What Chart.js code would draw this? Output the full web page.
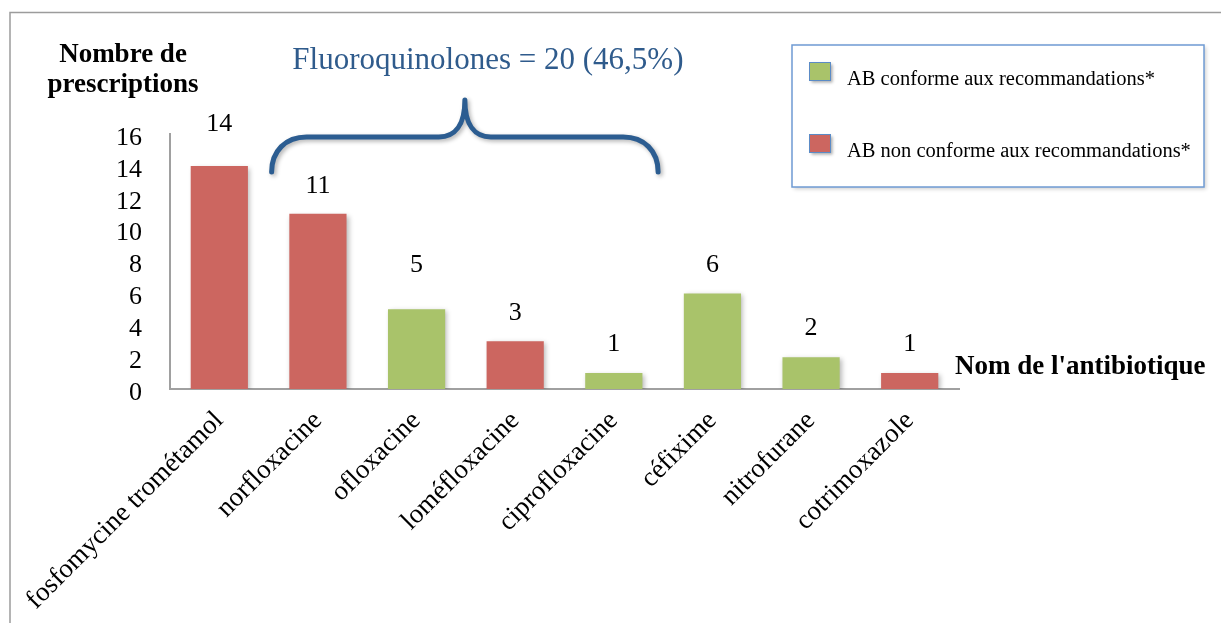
<!DOCTYPE html>
<html>
<head>
  <meta charset="utf-8">
  <title>Prescriptions par antibiotique</title>
  <script src="https://cdn.jsdelivr.net/npm/chart.js@4.4.2/dist/chart.umd.min.js"></script>
  <style>
    html, body { margin: 0; padding: 0; background: #fff; overflow: hidden; }
    canvas { display: block; }
  </style>
</head>
<body>
<canvas id="abChart" width="1221" height="623"></canvas>
<script>
const antibiotics = ['fosfomycine trométamol', 'norfloxacine', 'ofloxacine', 'loméfloxacine',
  'ciprofloxacine', 'céfixime', 'nitrofurane', 'cotrimoxazole'];
const prescriptions = [14, 11, 5, 3, 1, 6, 2, 1];
const conforme = [false, false, true, false, true, true, true, false];
const fluoroIdx = [1, 2, 3, 4];
const yTicks = [0, 2, 4, 6, 8, 10, 12, 14, 16];
const legendLabels = ['AB conforme aux recommandations*', 'AB non conforme aux recommandations*'];

// label lift above each bar (px), as placed in the original
const labelLift = [42, 28, 44, 28, 29, 28, 29, 29];

const GREEN = '#a9c36a';
const RED = '#cc6660';
const BLUE = '#2c5d91';
const SERIF = "'Liberation Serif', 'DejaVu Serif', serif";

Chart.defaults.font.family = SERIF;
Chart.defaults.color = '#000';

const total = prescriptions.reduce((a, b) => a + b, 0);
const fluoroSum = fluoroIdx.reduce((s, i) => s + prescriptions[i], 0);
const fluoroText = 'Fluoroquinolones = ' + fluoroSum + ' (' + (fluoroSum / total * 100).toFixed(1).replace('.', ',') + '%)';

const decor = {
  id: 'decor',
  beforeDraw(chart) {
    const c = chart.ctx;
    c.save();
    c.fillStyle = '#fff';
    c.fillRect(0, 0, chart.width, chart.height);
    // outer frame (top and left visible)
    c.strokeStyle = '#9c9c9c';
    c.lineWidth = 1.5;
    c.beginPath();
    c.moveTo(10, chart.height);
    c.lineTo(10, 12.5);
    c.lineTo(chart.width, 12.5);
    c.stroke();
    c.restore();
  },
  beforeDatasetsDraw(chart) {
    const c = chart.ctx;
    c.save();
    c.shadowColor = 'rgba(0,0,0,0.28)';
    c.shadowBlur = 5;
    c.shadowOffsetX = 2;
    c.shadowOffsetY = 2;
  },
  afterDatasetsDraw(chart) {
    chart.ctx.restore();
  },
  afterDraw(chart) {
    const c = chart.ctx;
    const xs = chart.scales.x;
    const meta = chart.getDatasetMeta(0);

    // value labels
    c.save();
    c.fillStyle = '#000';
    c.font = '26px ' + SERIF;
    c.textAlign = 'center';
    c.textBaseline = 'middle';
    meta.data.forEach((bar, i) => {
      c.fillText(String(prescriptions[i]), bar.x, bar.y - labelLift[i]);
    });
    c.restore();

    // brace over the fluoroquinolones
    const half = (xs.getPixelForValue(1) - xs.getPixelForValue(0)) / 2;
    const x0 = xs.getPixelForValue(fluoroIdx[0]) - half + 3;
    const x1 = xs.getPixelForValue(fluoroIdx[fluoroIdx.length - 1]) + half - 5;
    const xm = (x0 + x1) / 2;
    const yb = 172, yh = 137, yt = 100;
    c.save();
    c.strokeStyle = BLUE;
    c.lineWidth = 5;
    c.lineCap = 'round';
    c.lineJoin = 'round';
    c.shadowColor = 'rgba(0,0,0,0.3)';
    c.shadowBlur = 4;
    c.shadowOffsetX = 2;
    c.shadowOffsetY = 2;
    c.beginPath();
    c.moveTo(x0, yb);
    c.bezierCurveTo(x0, yh + 14, x0 + 14, yh, x0 + 35, yh);
    c.lineTo(xm - 26, yh);
    c.bezierCurveTo(xm - 10, yh, xm, yh - 12, xm, yt);
    c.bezierCurveTo(xm, yh - 12, xm + 10, yh, xm + 26, yh);
    c.lineTo(x1 - 35, yh);
    c.bezierCurveTo(x1 - 14, yh, x1, yh + 14, x1, yb);
    c.stroke();
    c.restore();

    // group text
    c.save();
    c.fillStyle = '#2f5b8c';
    c.font = '31px ' + SERIF;
    c.textAlign = 'center';
    c.textBaseline = 'alphabetic';
    c.fillText(fluoroText, xm + 23, 69);

    // axis titles
    c.fillStyle = '#000';
    c.font = 'bold 27px ' + SERIF;
    c.fillText('Nombre de', 123, 62);
    c.fillText('prescriptions', 123, 92);
    c.textAlign = 'left';
    c.fillText("Nom de l'antibiotique", 955, 374);
    c.restore();

    // legend box
    c.save();
    c.shadowColor = 'rgba(0,0,0,0.2)';
    c.shadowBlur = 4;
    c.shadowOffsetX = 2;
    c.shadowOffsetY = 2;
    c.fillStyle = '#fff';
    c.fillRect(792, 45, 412, 142);
    c.shadowColor = 'transparent';
    c.strokeStyle = '#6f9bd3';
    c.lineWidth = 1.5;
    c.strokeRect(792, 45, 412, 142);
    const swatch = [GREEN, RED];
    const rows = [62, 134];
    legendLabels.forEach((txt, i) => {
      c.save();
      c.shadowColor = 'rgba(0,0,0,0.35)';
      c.shadowBlur = 3;
      c.shadowOffsetX = 1.5;
      c.shadowOffsetY = 1.5;
      c.fillStyle = swatch[i];
      c.fillRect(809, rows[i], 22, 19);
      c.restore();
      c.strokeStyle = '#5b8bc6';
      c.lineWidth = 1;
      c.strokeRect(809.5, rows[i] + 0.5, 21, 18);
      c.fillStyle = '#000';
      c.font = '20.5px ' + SERIF;
      c.textBaseline = 'alphabetic';
      c.fillText(txt, 847, rows[i] + 23);
    });
    c.restore();
  }
};

const ctx = document.getElementById('abChart').getContext('2d');
const chart = new Chart(ctx, {
  type: 'bar',
  data: {
    labels: antibiotics,
    datasets: [{
      label: 'Nombre de prescriptions',
      data: prescriptions,
      backgroundColor: conforme.map(ok => ok ? GREEN : RED),
      borderWidth: 0,
      categoryPercentage: 1,
      barPercentage: 0.58
    }]
  },
  options: {
    responsive: false,
    animation: false,
    layout: { padding: { top: 134, right: 262, left: 0, bottom: 0 } },
    plugins: {
      legend: { display: false },
      title: { display: false },
      tooltip: { enabled: false }
    },
    scales: {
      x: {
        grid: { display: false },
        border: { display: true, color: '#a0a0a0', width: 2 },
        ticks: {
          autoSkip: false,
          minRotation: 45,
          maxRotation: 45,
          padding: 8,
          color: '#000',
          font: { size: 27 }
        },
        afterFit(axis) { axis.height = 234; }
      },
      y: {
        min: 0,
        max: 16,
        grid: { display: false },
        border: { display: true, color: '#a0a0a0', width: 2 },
        afterBuildTicks(axis) { axis.ticks = yTicks.map(v => ({ value: v })); },
        ticks: {
          autoSkip: false,
          padding: 20,
          labelOffset: 4,
          color: '#000',
          font: { size: 26 }
        },
        afterFit(axis) { axis.width = 170; }
      }
    }
  },
  plugins: [decor]
});
</script>
</body>
</html>
